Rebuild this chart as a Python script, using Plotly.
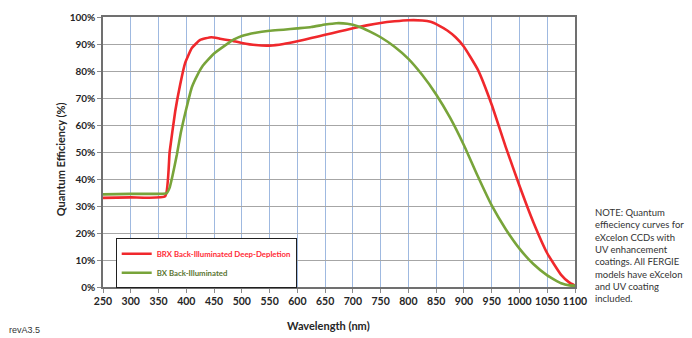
import plotly.graph_objects as go

# Wavelength (nm) and quantum efficiency (%)
brx_wl = [250, 300, 362, 370, 380, 389, 398, 410, 425, 445, 460, 480, 500, 525, 550, 575,
          600, 625, 650, 675, 700, 725, 750, 775, 800, 825, 840, 855, 870, 885, 900, 925,
          950, 975, 1000, 1025, 1050, 1075, 1090, 1100]
brx_qe = [33.0, 33.2, 33.6, 50, 65, 75, 83, 88.5, 91.5, 92.5, 92.0, 91.3, 90.4, 89.6, 89.4, 90.0,
          91.0, 92.2, 93.4, 94.6, 95.8, 96.9, 97.8, 98.4, 98.8, 98.7, 98.2, 96.8, 95.0, 92.5, 89.0, 80.5,
          67.5, 52, 37.5, 24, 12.5, 4.5, 1.6, 0.5]

bx_wl = [250, 300, 365, 370, 375, 383, 390, 400, 410, 420, 430, 450, 470, 485, 500, 525, 550,
         575, 600, 625, 650, 670, 690, 710, 730, 750, 775, 800, 825, 850, 875, 900, 925, 950,
         975, 1000, 1025, 1050, 1075, 1090, 1100]
bx_qe = [34.3, 34.5, 34.8, 36.8, 41, 49, 57, 66, 74, 78.5, 82, 86.5, 89.5, 91.6, 93.0, 94.2, 94.9,
         95.3, 95.8, 96.3, 97.2, 97.7, 97.5, 96.5, 94.7, 92.5, 89.0, 84.5, 78.5, 71.3, 62.7, 52.5, 41.0, 30.2,
         21.5, 14.2, 8.5, 4.3, 1.4, 0.6, 0.5]

x_ticks = list(range(250, 1101, 50))
y_ticks = list(range(0, 101, 10))

RED = "#f0282c"
GREEN = "#78a43a"
FONT = "Lato"

fig = go.Figure()
fig.add_trace(go.Scatter(
    x=brx_wl, y=brx_qe, mode="lines",
    line=dict(color=RED, width=2.6, shape="spline", smoothing=0.4),
    name="<span style='color:#ff2a36'><b>BRX Back-Illuminated Deep-Depletion</b></span>"))
fig.add_trace(go.Scatter(
    x=bx_wl, y=bx_qe, mode="lines",
    line=dict(color=GREEN, width=2.6, shape="spline", smoothing=0.4),
    name="<span style='color:#5a7530'><b>BX Back-Illuminated</b></span>"))

W, H = 692, 338
L, R, T, B = 103, 117, 10, 51

fig.update_layout(
    width=W, height=H,
    margin=dict(l=L, r=R, t=T, b=B),
    paper_bgcolor="white", plot_bgcolor="white",
    font=dict(family=FONT, color="#262626"),
    showlegend=True,
    legend=dict(
        x=(115.7 - L) / (W - L - R), y=(287 - 237) / (H - T - B),
        xanchor="left", yanchor="top",
        bgcolor="white", bordercolor="#202020", borderwidth=1,
        font=dict(family=FONT, size=7.8),
        tracegroupgap=0, itemwidth=30,
    ),
    xaxis=dict(
        range=[250, 1100], tickvals=x_ticks, ticktext=[str(v) for v in x_ticks],
        showgrid=True, gridcolor="#9fb9e0", gridwidth=1,
        showline=True, linecolor="#707070", linewidth=1.5, mirror=True,
        ticks="outside", ticklen=4, tickcolor="#8a8a8a",
        tickfont=dict(family=FONT, size=10.5, color="#262626", weight="bold"),
        zeroline=False,
    ),
    yaxis=dict(
        range=[0, 100], tickvals=y_ticks, ticktext=[f"{v}%" for v in y_ticks],
        showgrid=True, gridcolor="#a6a6a6", gridwidth=1,
        showline=True, linecolor="#707070", linewidth=1.5, mirror=True,
        ticks="outside", ticklen=4, tickcolor="#8a8a8a",
        tickfont=dict(family=FONT, size=10, color="#262626", weight="bold"),
        zeroline=False,
    ),
    annotations=[
        dict(text="<b>Wavelength (nm)</b>", xref="paper", yref="paper",
             x=(328.5 - L) / (W - L - R), y=-(327 - 287) / (H - T - B),
             xanchor="center", yanchor="middle", showarrow=False,
             font=dict(family=FONT, size=11, color="#262626")),
        dict(text="<b>Quantum Efficiency (%)</b>", xref="paper", yref="paper",
             x=-(L - 60) / (W - L - R), y=(287 - 156) / (H - T - B),
             xanchor="center", yanchor="middle", textangle=-90, showarrow=False,
             font=dict(family=FONT, size=11, color="#262626")),
        dict(text="NOTE: Quantum<br>effieciency curves for<br>eXcelon CCDs with<br>UV enhancement<br>"
                  "coatings. All FERGIE<br>models have eXcelon<br>and UV coating<br>included.",
             xref="paper", yref="paper",
             x=(593 - L) / (W - L - R), y=(287 - 203) / (H - T - B),
             xanchor="left", yanchor="top", align="left", showarrow=False,
             font=dict(family=FONT, size=9.5, color="#333333")),
        dict(text="revA3.5", xref="paper", yref="paper",
             x=-(L - 7) / (W - L - R), y=-(331.5 - 287) / (H - T - B),
             xanchor="left", yanchor="middle", showarrow=False,
             font=dict(family="Liberation Sans", size=9, color="#333333")),
    ],
)

fig.write_html("out.html")
